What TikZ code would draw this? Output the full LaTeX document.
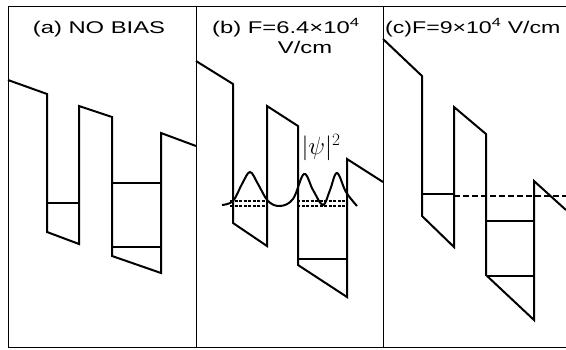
\documentclass[tikz,border=0pt]{standalone}
\usepackage{amsmath,amssymb}
\usepackage{fontspec}
\newfontfamily\titlefont[FakeStretch=1.4]{Liberation Sans}
\newfontfamily\narrowtitlefont[FakeStretch=1.36]{Liberation Sans}
\usepackage{tikz}
\usetikzlibrary{positioning}

\begin{document}
\begin{tikzpicture}[x=1pt, y=-1pt,
    band/.style={line width=2pt, line join=miter},
    level/.style={line width=1.8pt},
    frame/.style={line width=1pt},
    title/.style={font=\titlefont\fontsize{17}{19}\selectfont, inner sep=0pt}]
           \useasboundingbox (0,0) rectangle (566,349);
           % frame and panel dividers
           \draw[frame] (566,6) -- (8,6) -- (8,347) -- (566,347);
           \draw[frame] (196,6) -- (196,347);
           \draw[frame] (383,6) -- (383,347);
           % (a) no bias
           \node[title, anchor=base] (ta) at (99,33) {(a) NO BIAS};
           \draw[band] (8,80) -- (47,94) -- (47,232) -- (79,244) -- (79,106) -- (112,117)
                       -- (112,256) -- (161,273) -- (161,133) -- (196,146);
           \draw[level] (47,203) -- (79,203);
           \draw[level] (112,183) -- (161,183);
           \draw[level] (112,247) -- (161,247);
           % (b) F=6.4x10^4 V/cm
           \node[title, anchor=base west] (tb) at (212,33) {(b) F=6.4×10\textsuperscript{4}};
           \node[title, anchor=base] (tbu) at (305,53) {V/cm};
           \draw[band] (196,61) -- (233,84) -- (233,223) -- (267,246) -- (267,106) -- (298,126)
                       -- (298,265) -- (347,297) -- (347,159) -- (383,182);
           \draw[level] (298,259) -- (347,259);
           \draw[level, dash pattern=on 3pt off 1.5pt, line width=1.3pt]
                (230,201) -- (267,201) (230,206) -- (267,206)
                (297,201) -- (348,201) (297,206) -- (348,206);
           \draw[line width=2pt] plot[smooth, tension=0.6] coordinates {(222,205) (233,201) (242,184)
                (250,172) (258,184) (268,201) (280,206) (293,199) (304,174) (313,190) (323,205)
                (330,190) (337,173) (346,192) (357,206)};
           \node[font=\fontsize{24}{26}\selectfont, inner sep=0pt] (psi) at (321,148) {$|\psi|^2$};
           % (c) F=9x10^4 V/cm
           \node[title, font=\narrowtitlefont\fontsize{17}{19}\selectfont, anchor=base west] (tc)
                at (385,33) {(c)F=9×10\textsuperscript{4} V/cm};
           \draw[band] (383,39) -- (422,76) -- (422,216) -- (454,247) -- (454,107) -- (486,134)
                       -- (486,275) -- (534,320) -- (534,181) -- (566,210);
           \draw[level] (422,194) -- (454,194);
           \draw[level, dash pattern=on 6pt off 3pt] (454,196) -- (566,196);
           \draw[level] (486,221) -- (534,221);
           \draw[level] (488,276) -- (534,276);
        \end{tikzpicture}
\end{document}
